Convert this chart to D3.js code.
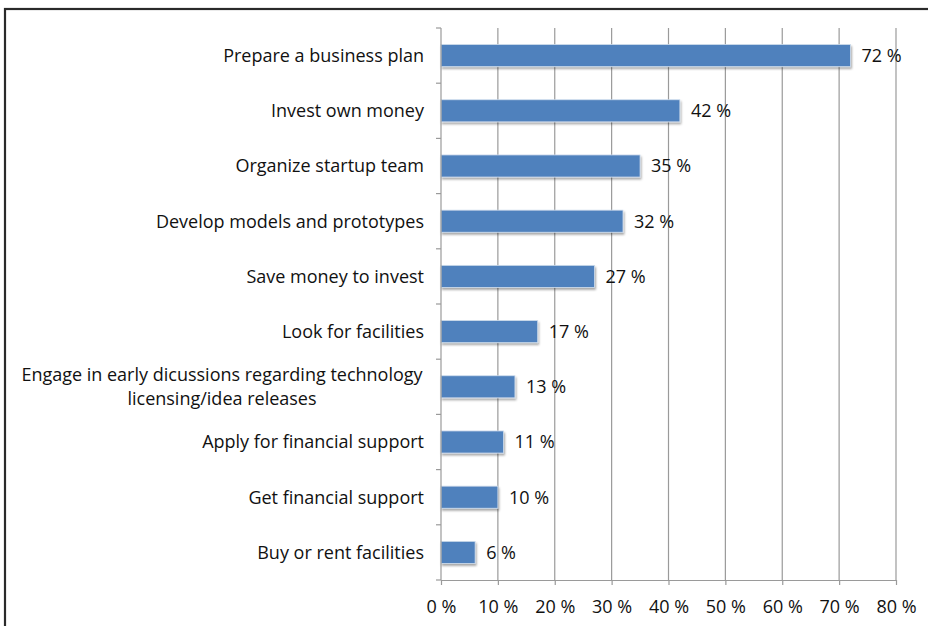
<!DOCTYPE html>
<html>
<head>
<meta charset="utf-8">
<script src="https://cdn.jsdelivr.net/npm/d3@7"></script>
<style>
  html, body { margin: 0; padding: 0; background: #fff; }
  svg { display: block; }
  text { font-family: "Open Sans", "Liberation Sans", sans-serif; fill: #111; }
</style>
</head>
<body>
<svg id="chart" width="928" height="626"></svg>
<script>
// Survey: startup activities undertaken (share of respondents)
const categories = [
  "Prepare a business plan",
  "Invest own money",
  "Organize startup team",
  "Develop models and prototypes",
  "Save money to invest",
  "Look for facilities",
  "Engage in early dicussions regarding technology\nlicensing/idea releases",
  "Apply for financial support",
  "Get financial support",
  "Buy or rent facilities"
];
const values = [72, 42, 35, 32, 27, 17, 13, 11, 10, 6];
const tickValues = [0, 10, 20, 30, 40, 50, 60, 70, 80];

const svg = d3.select("#chart");
const margin = { left: 441, right: 32, top: 28, bottom: 46 };
const W = 928, H = 626;
const FS = 18;

// outer frame
svg.append("rect")
  .attr("x", 5).attr("y", 9)
  .attr("width", W + 10).attr("height", H + 10)
  .attr("fill", "none").attr("stroke", "#2a2a2a").attr("stroke-width", 2.2);

const x = d3.scaleLinear().domain([0, 80]).range([margin.left, W - margin.right]);
const y = d3.scaleBand().domain(categories).range([margin.top, H - margin.bottom]).paddingInner(0.6).paddingOuter(0.3);
const band = d3.scaleBand().domain(categories).range([margin.top, H - margin.bottom]);

const defs = svg.append("defs");
const f = defs.append("filter").attr("id", "shadow").attr("x", "-5%").attr("y", "-20%").attr("width", "115%").attr("height", "160%");
f.append("feDropShadow").attr("dx", 1).attr("dy", 2).attr("stdDeviation", 1.2).attr("flood-color", "#000").attr("flood-opacity", 0.35);

// vertical gridlines
svg.append("g").selectAll("line")
  .data(tickValues.slice(1))
  .join("line")
  .attr("x1", d => x(d)).attr("x2", d => x(d))
  .attr("y1", margin.top).attr("y2", H - margin.bottom)
  .attr("stroke", "#9a9a9a").attr("stroke-width", 1.2);

// bars
svg.append("g").selectAll("rect")
  .data(values)
  .join("rect")
  .attr("x", x(0))
  .attr("y", (d, i) => y(categories[i]))
  .attr("width", d => x(d) - x(0))
  .attr("height", y.bandwidth())
  .attr("fill", "#4f81bd")
  .attr("stroke", "#cfdcec").attr("stroke-width", 0.8)
  .attr("filter", "url(#shadow)");

// value labels
svg.append("g").selectAll("text")
  .data(values)
  .join("text")
  .attr("x", d => x(d) + 11)
  .attr("y", (d, i) => y(categories[i]) + y.bandwidth() / 2)
  .attr("dy", "0.36em")
  .attr("font-size", FS)
  .text(d => d + " %");

// category axis
const yAxis = svg.append("g");
yAxis.append("line")
  .attr("x1", x(0)).attr("x2", x(0))
  .attr("y1", margin.top).attr("y2", H - margin.bottom)
  .attr("stroke", "#9a9a9a").attr("stroke-width", 1.2);
yAxis.selectAll(".tk")
  .data(categories)
  .join("line")
  .attr("x1", x(0) - 5).attr("x2", x(0))
  .attr("y1", d => band(d)).attr("y2", d => band(d))
  .attr("stroke", "#9a9a9a").attr("stroke-width", 1.2);
yAxis.append("line")
  .attr("x1", x(0) - 5).attr("x2", x(0))
  .attr("y1", H - margin.bottom).attr("y2", H - margin.bottom)
  .attr("stroke", "#9a9a9a").attr("stroke-width", 1.2);

const labels = yAxis.selectAll(".lbl")
  .data(categories)
  .join("text")
  .attr("font-size", FS);
labels.each(function(d) {
  const lines = d.split("\n");
  const t = d3.select(this);
  const cy = y(d) + y.bandwidth() / 2;
  lines.forEach((ln, k) => {
    t.append("tspan")
      .attr("x", lines.length > 1 ? 222 : 424)
      .attr("text-anchor", lines.length > 1 ? "middle" : "end")
      .attr("y", cy + (k - (lines.length - 1) / 2) * 24)
      .attr("dy", "0.36em")
      .text(ln);
  });
});

// value axis
const xAxis = svg.append("g").attr("transform", `translate(0,${H - margin.bottom})`)
  .call(d3.axisBottom(x).tickValues(tickValues).tickSize(5).tickSizeOuter(0).tickFormat(d => d + " %"));
xAxis.select(".domain").attr("stroke", "#9a9a9a").attr("stroke-width", 1.2);
xAxis.selectAll(".tick line").attr("stroke", "#9a9a9a").attr("stroke-width", 1.2);
xAxis.selectAll(".tick text")
  .attr("font-size", FS)
  .attr("font-family", "\"Open Sans\", \"Liberation Sans\", sans-serif")
  .attr("fill", "#111")
  .attr("y", 20);
</script>
</body>
</html>
